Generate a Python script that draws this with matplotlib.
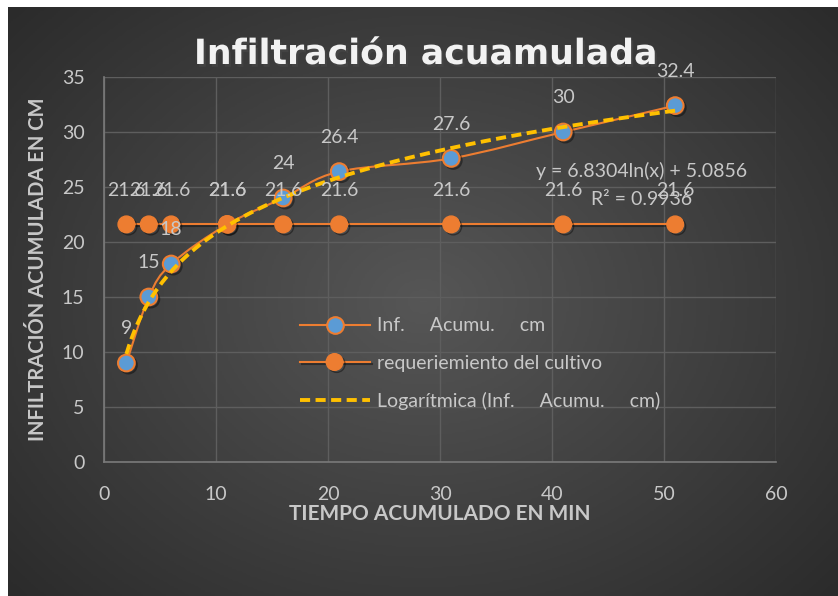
# Infiltracion acumulada vs tiempo acumulado
import numpy as np
import matplotlib.pyplot as plt
from matplotlib.path import Path
from matplotlib.patches import PathPatch
import matplotlib.patheffects as pe

plt.rcParams['font.family'] = ['Lato', 'DejaVu Sans']

tiempo = [2, 4, 6, 11, 16, 21, 31, 41, 51]
infiltracion = [9, 15, 18, 21.6, 24, 26.4, 27.6, 30, 32.4]
requerimiento = [21.6, 21.6, 21.6, 21.6, 21.6, 21.6, 21.6, 21.6, 21.6]

ORANGE = '#ED7D31'
BLUE = '#5B9BD5'
YELLOW = '#FFC000'
TXT = '#C8C8C8'

fig = plt.figure(figsize=(8.38, 5.96), dpi=100)
fig.patch.set_facecolor('white')

# dark radial background
bg = fig.add_axes([8 / 838, 0, 1 - 8 / 838, 1 - 7 / 596])
yy, xx = np.mgrid[-1:1:300j, -1:1:400j]
rr = np.sqrt(xx ** 2 + (yy * 0.9) ** 2)
bg.imshow(np.clip(rr, 0, 1.4), cmap=plt.matplotlib.colors.LinearSegmentedColormap.from_list(
    'g', ['#565656', '#2b2b2b']), aspect='auto', extent=[0, 1, 0, 1])
bg.axis('off')

ax = fig.add_axes([104 / 838, 1 - 462 / 596, (776 - 104) / 838, (462 - 77) / 596])
ax.patch.set_alpha(0)

# smooth line (excel-like bezier through the points)
pts = np.column_stack([tiempo, infiltracion]).astype(float)
verts = [pts[0]]
codes = [Path.MOVETO]
n = len(pts)
for i in range(n - 1):
    p0 = pts[max(i - 1, 0)]
    p1 = pts[i]
    p2 = pts[i + 1]
    p3 = pts[min(i + 2, n - 1)]
    verts += [p1 + (p2 - p0) / 6, p2 - (p3 - p1) / 6, p2]
    codes += [Path.CURVE4] * 3
ax.add_patch(PathPatch(Path(verts, codes), fill=False, edgecolor=ORANGE, lw=1.5, zorder=3))

shadow = [pe.SimpleLineShadow(offset=(1.5, -1.5), alpha=0.4), pe.Normal()]
ax.plot(tiempo, infiltracion, linestyle='none', marker='o', ms=12, mfc=BLUE, mec=ORANGE,
        mew=1.5, zorder=4, path_effects=shadow)
ax.plot([], [], color=ORANGE, lw=1.5, marker='o', ms=12, mfc=BLUE, mec=ORANGE, mew=1.5,
        label='Inf.     Acumu.     cm')
ax.plot(tiempo, requerimiento, color=ORANGE, lw=1.5, marker='o', ms=12, mfc=ORANGE, mec=ORANGE,
        zorder=4, label='requeriemiento del cultivo', path_effects=shadow)

# logarithmic trendline
a, b = np.polyfit(np.log(tiempo), infiltracion, 1)
xt = np.linspace(min(tiempo), max(tiempo), 200)
ax.plot(xt, a * np.log(xt) + b, color=YELLOW, lw=2.8, ls=(0, (2.6, 1.4)), zorder=5,
        label='Logarítmica (Inf.     Acumu.     cm)')

for x, y in zip(tiempo, requerimiento):
    ax.annotate(f'{y:g}', (x, y), xytext=(0, 24.5), textcoords='offset points',
                ha='center', va='center', fontsize=14, color=TXT, zorder=6)
for x, y in zip(tiempo, infiltracion):
    ax.annotate(f'{y:g}', (x, y), xytext=(0, 24.5), textcoords='offset points',
                ha='center', va='center', fontsize=14, color=TXT, zorder=6)

ax.text(48, 26.45, 'y = 6.8304ln(x) + 5.0856', ha='center', va='center', fontsize=14, color=TXT, zorder=6)
ax.text(48, 23.9, 'R² = 0.9936', ha='center', va='center', fontsize=14, color=TXT, zorder=6)

ax.set_xlim(0, 60)
ax.set_ylim(0, 35)
ax.set_xticks(range(0, 61, 10))
ax.set_yticks(range(0, 36, 5))
ax.grid(True, color='#5E5E5E', lw=1)
ax.set_axisbelow(True)
for s in ['top', 'right']:
    ax.spines[s].set_visible(False)
for s in ['left', 'bottom']:
    ax.spines[s].set_color('#7A7A7A')
    ax.spines[s].set_linewidth(1.2)
ax.tick_params(length=0, labelsize=14, colors=TXT)
ax.tick_params(axis='x', pad=17)
ax.tick_params(axis='y', pad=14)

ax.set_xlabel('TIEMPO ACUMULADO EN MIN', fontsize=15, fontweight='bold', color=TXT, labelpad=1)
ax.set_ylabel('INFILTRACIÓN ACUMULADA EN CM', fontsize=14.5, fontweight='bold', color=TXT, labelpad=10)

leg = ax.legend(loc='center left', bbox_to_anchor=(0.265, 0.255), frameon=False, fontsize=14,
                labelcolor=TXT, handlelength=3.6, labelspacing=1.05, handletextpad=0.4)

fig.text(426 / 838, 1 - 54 / 596, 'Infiltración acuamulada', ha='center', va='center', fontsize=25,
         fontweight='bold', color='#F2F2F2', family='DejaVu Sans',
         path_effects=[pe.withSimplePatchShadow(offset=(1.5, -2), alpha=0.6)])

fig.savefig('out.png', dpi=100)
